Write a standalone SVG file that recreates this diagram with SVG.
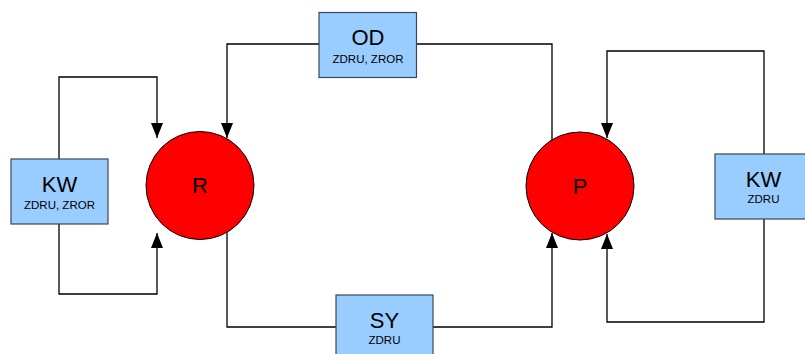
<svg xmlns="http://www.w3.org/2000/svg" width="805" height="354" viewBox="0 0 805 354">
<style>
.box{fill:#99ccff;stroke:#3a4655;stroke-width:1.2}
.circ{fill:#ff0000;stroke:#000;stroke-width:1}
.big{font-family:"Liberation Sans",Arial,sans-serif;font-size:22px;fill:#000;text-anchor:middle}
.small{font-family:"Liberation Sans",Arial,sans-serif;font-size:11.5px;fill:#000;text-anchor:middle}
.con{fill:none;stroke:#000;stroke-width:1.3}
</style>
<defs>
<marker id="arr" viewBox="0 0 15 12" refX="15" refY="6" markerWidth="15" markerHeight="12" markerUnits="userSpaceOnUse" orient="auto">
<path d="M0,0 L15,6 L0,12 z" fill="#000"/>
</marker>
</defs>
<rect width="805" height="354" fill="#fff"/>
<g id="connectors">
<path class="con" d="M59,159 V77 H157 V138" marker-end="url(#arr)"/>
<path class="con" d="M59,224 V294 H157 V233" marker-end="url(#arr)"/>
<path class="con" d="M319,44 H227 V138" marker-end="url(#arr)"/>
<path class="con" d="M417,44 H552 V140"/>
<path class="con" d="M227,232 V327 H336"/>
<path class="con" d="M433,327 H552 V233" marker-end="url(#arr)"/>
<path class="con" d="M764,154 V51 H607 V138" marker-end="url(#arr)"/>
<path class="con" d="M764,219 V322 H607 V234" marker-end="url(#arr)"/>
</g>
<g id="R">
<circle class="circ" cx="200" cy="185.5" r="54"/>
<text class="big" x="200" y="193">R</text>
</g>
<g id="P">
<circle class="circ" cx="580" cy="186" r="54"/>
<text class="big" x="580" y="193.5">P</text>
</g>
<g id="KW_left">
<rect class="box" x="11" y="159" width="97" height="65"/>
<text class="big" x="59.5" y="192">KW</text>
<text class="small" x="59.5" y="208.5">ZDRU, ZROR</text>
</g>
<g id="OD">
<rect class="box" x="319" y="12.5" width="97.5" height="65"/>
<text class="big" x="368" y="45">OD</text>
<text class="small" x="368" y="63">ZDRU, ZROR</text>
</g>
<g id="SY">
<rect class="box" x="336" y="295" width="97" height="65"/>
<text class="big" x="384.5" y="327.5">SY</text>
<text class="small" x="384.5" y="344">ZDRU</text>
</g>
<g id="KW_right">
<rect class="box" x="715" y="154" width="97" height="65"/>
<text class="big" x="763.5" y="186.5">KW</text>
<text class="small" x="763.5" y="203">ZDRU</text>
</g>
</svg>
